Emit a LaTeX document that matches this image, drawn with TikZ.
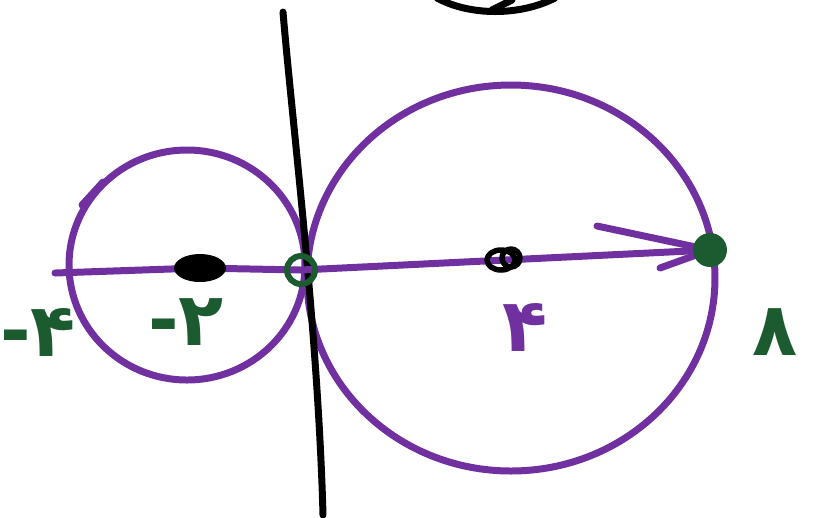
\documentclass[tikz,border=0pt]{standalone}
\usepackage{fontspec}
\newfontfamily\arabicfont[Script=Arabic]{DejaVu Sans Bold}
\newfontfamily\dashfont{DejaVu Sans Bold}
\definecolor{inkpurple}{RGB}{112,48,160}
\definecolor{inkgreen}{RGB}{28,90,48}
\newcommand{\pdig}[1]{{\arabicfont #1}}
\newcommand{\ndig}[1]{{\dashfont -}\pdig{#1}}
\tikzset{
  pen/.style={line width=7pt*0.01/0.0352, line cap=round, line join=round},
  purp/.style={pen, draw=inkpurple},
  digit/.style={font=\fontsize{21}{21}\selectfont, inner sep=0pt}
}

\begin{document}
\begin{tikzpicture}[x=0.01cm, y=-0.01cm]
\useasboundingbox (0,0) rectangle (817,517);
% points on the real axis
\coordinate (w) at (55,273);
\coordinate (m2) at (200,268);
\coordinate (o) at (301,270);
\coordinate (p4) at (505,260);
\coordinate (p8) at (710,250);
% circles
\draw[purp] (187,265) ellipse [x radius=118, y radius=115];
\draw[purp] (511,278) ellipse [x radius=204, y radius=193];
\draw[purp] (82,205) -- (103,182);
% imaginary axis
\draw[pen, black] (283,12) .. controls (292,120) and (318,330) .. (323,515);
\draw[pen, black] (437,-2) .. controls (470,16) and (520,16) .. (555,-2);
\draw[pen, black] (492,10) -- (512,0);
% real axis with arrow
\draw[purp] (w) -- (m2) -- (o) -- (p4) -- (p8);
\draw[purp] (p8) -- (597,226);
\draw[purp] (p8) -- (660,268);
% marks
\fill (m2) ellipse [x radius=26, y radius=14];
\draw[pen, black, line width=5.5pt*0.01/0.0352] ([xshift=-4pt*0.01/0.0352]p4) ellipse [x radius=14, y radius=10];
\draw[pen, black, line width=5.5pt*0.01/0.0352] ([xshift=6pt*0.01/0.0352, yshift=2pt*0.01/0.0352]p4) circle (9);
\draw[inkgreen, line width=6pt*0.01/0.0352] (o) circle (14);
\fill[inkgreen] (p8) circle (17);
% labels
\node[digit, text=inkgreen] (lm4) at (38,332) {\ndig{۴}};
\node[digit, text=inkgreen] (lm2) at (186,322) {\ndig{۲}};
\node[digit, text=inkpurple] (l4) at (525,327) {\pdig{۴}};
\node[digit, text=inkgreen] (l8) at (775,332) {\pdig{۸}};
\end{tikzpicture}
\end{document}
